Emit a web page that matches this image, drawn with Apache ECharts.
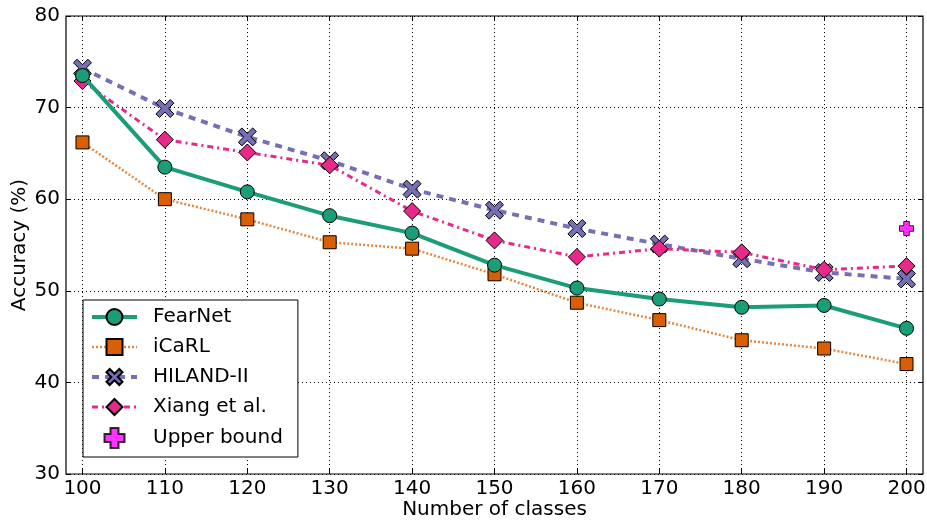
<!DOCTYPE html>
<html>
<head>
<meta charset="utf-8">
<script src="https://cdn.jsdelivr.net/npm/echarts@6/dist/echarts.min.js"></script>
<style>
  html, body { margin: 0; padding: 0; background: #fff; }
  #chart-container { width: 927px; height: 525px; }
</style>
</head>
<body>
<div id="chart-container"></div>
<script>
var classes = [100, 110, 120, 130, 140, 150, 160, 170, 180, 190, 200];
var fearnet = [73.5, 63.5, 60.8, 58.2, 56.3, 52.8, 50.3, 49.1, 48.2, 48.4, 45.9];
var icarl = [66.2, 60.0, 57.8, 55.3, 54.6, 51.8, 48.7, 46.8, 44.6, 43.7, 42.0];
var hiland = [74.3, 69.9, 66.8, 64.2, 61.1, 58.8, 56.8, 55.1, 53.5, 52.0, 51.3];
var xiang = [72.9, 66.5, 65.1, 63.7, 58.7, 55.5, 53.7, 54.6, 54.2, 52.3, 52.7];
var upperBound = [[200, 56.8]];

function pairs(vals) {
  return classes.map(function (c, i) { return [c, vals[i]]; });
}

var xShape = "path://M2,0 L5,3 L8,0 L10,2 L7,5 L10,8 L8,10 L5,7 L2,10 L0,8 L3,5 L0,2 Z";
var plusShape = "path://M3,0 L7,0 L7,3 L10,3 L10,7 L7,7 L7,10 L3,10 L3,7 L0,7 L0,3 L3,3 Z";
var font = "DejaVu Sans";

var dom = document.getElementById("chart-container");
var myChart = echarts.init(dom, null, { renderer: "canvas" });

var tickStyle = { show: true, inside: true, length: 5, lineStyle: { color: "#000", width: 1 }, customValues: classes };
var gridLine = { show: true, lineStyle: { color: "#000", type: [1, 3], width: 1 } };

var option = {
  animation: false,
  textStyle: { fontFamily: font },
  grid: {
    left: 66, right: 4, top: 16, bottom: 51, outerBoundsMode: "none", containLabel: false,
    show: true, borderColor: "#000", borderWidth: 1.2
  },
  xAxis: [
    {
      type: "value", min: 98, max: 202, position: "bottom",
      name: "Number of classes", nameLocation: "middle", nameGap: 26, nameMoveOverlap: false,
      nameTextStyle: { fontSize: 20, color: "#000", fontFamily: font },
      axisLine: { show: false },
      axisTick: tickStyle,
      axisLabel: { customValues: classes, fontSize: 20, color: "#000", margin: 5, fontFamily: font },
      splitLine: gridLine
    },
    {
      type: "value", min: 98, max: 202, position: "top",
      axisLine: { show: false }, axisTick: tickStyle,
      axisLabel: { show: false }, splitLine: { show: false }
    }
  ],
  yAxis: [
    {
      type: "value", min: 30, max: 80, interval: 10, position: "left",
      name: "Accuracy (%)", nameLocation: "middle", nameGap: 36, nameMoveOverlap: false,
      nameTextStyle: { fontSize: 20, color: "#000", fontFamily: font },
      axisLine: { show: false },
      axisTick: { show: true, inside: true, length: 5, lineStyle: { color: "#000" } },
      axisLabel: { fontSize: 20, color: "#000", margin: 6, fontFamily: font },
      splitLine: gridLine
    },
    {
      type: "value", min: 30, max: 80, interval: 10, position: "right",
      axisLine: { show: false },
      axisTick: { show: true, inside: true, length: 5, lineStyle: { color: "#000" } },
      axisLabel: { show: false }, splitLine: { show: false }
    }
  ],
  legend: {
    orient: "vertical", left: 83, top: 300,
    backgroundColor: "#fff", borderColor: "#000", borderWidth: 1,
    padding: [7, 15, 8, 7], itemWidth: 45, itemHeight: 20, itemGap: 10,
    textStyle: { fontSize: 20, color: "#000", fontFamily: font, padding: [0, 0, 0, 11] },
    data: [
      { name: "FearNet", lineStyle: { width: 4 } },
      { name: "iCaRL", lineStyle: { width: 2.5 } },
      { name: "HILAND-II", lineStyle: { width: 4 } },
      { name: "Xiang et al.", lineStyle: { width: 3 } },
      { name: "Upper bound" }
    ]
  },
  series: [
    {
      name: "FearNet", type: "line", data: pairs(fearnet), z: 4,
      symbol: "circle", symbolSize: 14,
      lineStyle: { color: "#1b9e77", width: 4 },
      itemStyle: { color: "#1b9e77", borderColor: "#000", borderWidth: 1 }
    },
    {
      name: "iCaRL", type: "line", data: pairs(icarl), z: 3,
      symbol: "rect", symbolSize: 13,
      lineStyle: { color: "rgba(217,95,2,0.75)", width: 2.5, type: [2, 2] },
      itemStyle: { color: "#d95f02", borderColor: "#000", borderWidth: 1 }
    },
    {
      name: "HILAND-II", type: "line", data: pairs(hiland), z: 2,
      symbol: xShape, symbolSize: 18,
      lineStyle: { color: "#7570b3", width: 4, type: [7, 6] },
      itemStyle: { color: "#7570b3", borderColor: "#000", borderWidth: 1 }
    },
    {
      name: "Xiang et al.", type: "line", data: pairs(xiang), z: 3,
      symbol: "diamond", symbolSize: 17,
      lineStyle: { color: "#e7298a", width: 3, type: [6, 4, 2, 4] },
      itemStyle: { color: "#e7298a", borderColor: "#000", borderWidth: 1 }
    },
    {
      name: "Upper bound", type: "scatter", data: upperBound, z: 5,
      symbol: plusShape, symbolSize: 14,
      itemStyle: { color: "#ff00ff", borderColor: "#000", borderWidth: 1 }
    }
  ]
};

myChart.setOption(option);
window.addEventListener("resize", myChart.resize);
</script>
</body>
</html>
